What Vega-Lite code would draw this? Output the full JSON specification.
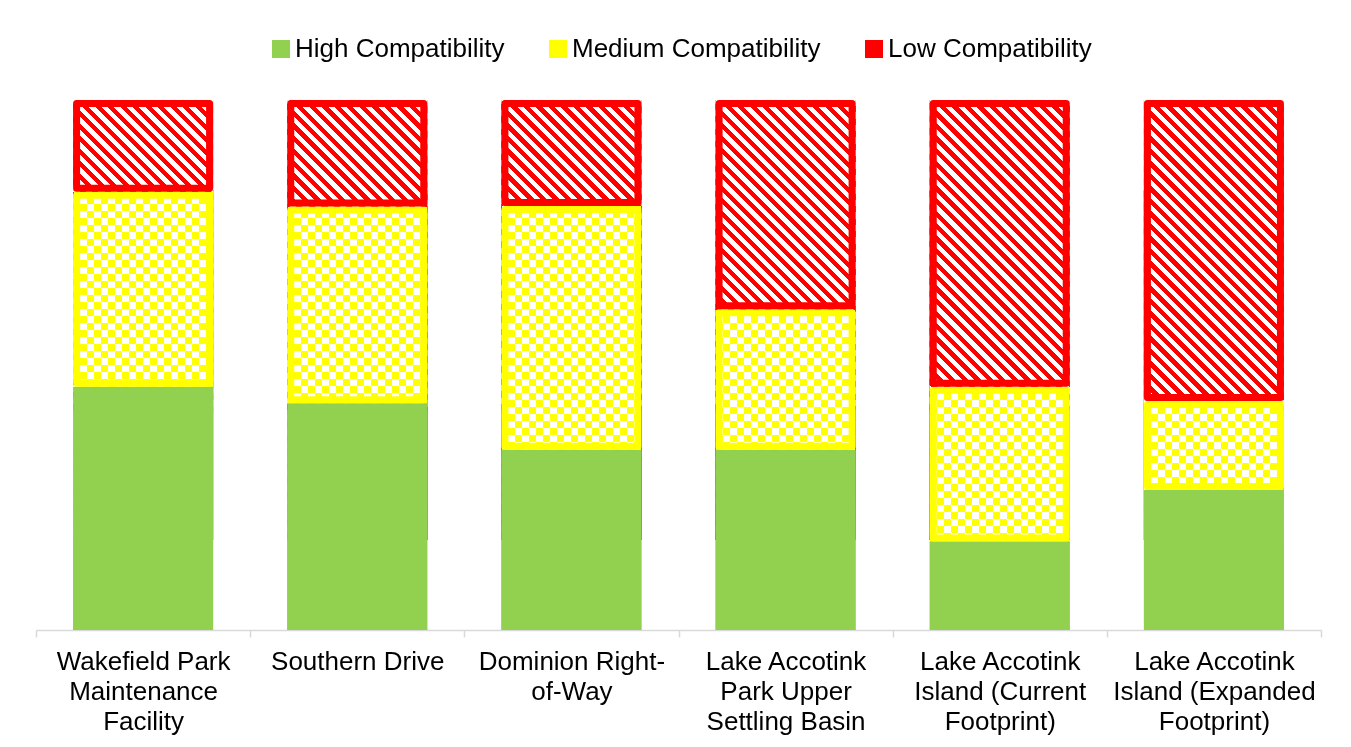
{
  "$schema": "https://vega.github.io/schema/vega-lite/v6.json",
  "width": 1285,
  "height": 530,
  "autosize": {"type": "none"},
  "padding": {"left": 36, "top": 100, "right": 30, "bottom": 117},
  "background": "white",
  "config": {"view": {"stroke": null}},
  "params": [
    {"name": "checkH", "value": {"gradient": "linear", "x1": 0, "y1": 0, "x2": 0, "y2": 1, "stops": [
      {"offset": 0, "color": "#00f"}, {"offset": 0.02, "color": "#00f"},
      {"offset": 0.02, "color": "#000"}, {"offset": 0.04, "color": "#000"},
      {"offset": 0.04, "color": "#00f"}, {"offset": 0.06, "color": "#00f"},
      {"offset": 0.06, "color": "#000"}, {"offset": 0.08, "color": "#000"},
      {"offset": 0.08, "color": "#00f"}, {"offset": 0.10, "color": "#00f"},
      {"offset": 0.10, "color": "#000"}, {"offset": 0.12, "color": "#000"},
      {"offset": 0.12, "color": "#00f"}, {"offset": 0.14, "color": "#00f"},
      {"offset": 0.14, "color": "#000"}, {"offset": 0.16, "color": "#000"},
      {"offset": 0.16, "color": "#00f"}, {"offset": 0.18, "color": "#00f"},
      {"offset": 0.18, "color": "#000"}, {"offset": 0.20, "color": "#000"},
      {"offset": 0.20, "color": "#00f"}, {"offset": 0.22, "color": "#00f"},
      {"offset": 0.22, "color": "#000"}, {"offset": 0.24, "color": "#000"},
      {"offset": 0.24, "color": "#00f"}, {"offset": 0.26, "color": "#00f"},
      {"offset": 0.26, "color": "#000"}, {"offset": 0.28, "color": "#000"},
      {"offset": 0.28, "color": "#00f"}, {"offset": 0.30, "color": "#00f"},
      {"offset": 0.30, "color": "#000"}, {"offset": 0.32, "color": "#000"},
      {"offset": 0.32, "color": "#00f"}, {"offset": 0.34, "color": "#00f"},
      {"offset": 0.34, "color": "#000"}, {"offset": 0.36, "color": "#000"},
      {"offset": 0.36, "color": "#00f"}, {"offset": 0.38, "color": "#00f"},
      {"offset": 0.38, "color": "#000"}, {"offset": 0.40, "color": "#000"},
      {"offset": 0.40, "color": "#00f"}, {"offset": 0.42, "color": "#00f"},
      {"offset": 0.42, "color": "#000"}, {"offset": 0.44, "color": "#000"},
      {"offset": 0.44, "color": "#00f"}, {"offset": 0.46, "color": "#00f"},
      {"offset": 0.46, "color": "#000"}, {"offset": 0.48, "color": "#000"},
      {"offset": 0.48, "color": "#00f"}, {"offset": 0.50, "color": "#00f"},
      {"offset": 0.50, "color": "#000"}, {"offset": 0.52, "color": "#000"},
      {"offset": 0.52, "color": "#00f"}, {"offset": 0.54, "color": "#00f"},
      {"offset": 0.54, "color": "#000"}, {"offset": 0.56, "color": "#000"},
      {"offset": 0.56, "color": "#00f"}, {"offset": 0.58, "color": "#00f"},
      {"offset": 0.58, "color": "#000"}, {"offset": 0.60, "color": "#000"},
      {"offset": 0.60, "color": "#00f"}, {"offset": 0.62, "color": "#00f"},
      {"offset": 0.62, "color": "#000"}, {"offset": 0.64, "color": "#000"},
      {"offset": 0.64, "color": "#00f"}, {"offset": 0.66, "color": "#00f"},
      {"offset": 0.66, "color": "#000"}, {"offset": 0.68, "color": "#000"},
      {"offset": 0.68, "color": "#00f"}, {"offset": 0.70, "color": "#00f"},
      {"offset": 0.70, "color": "#000"}, {"offset": 0.72, "color": "#000"},
      {"offset": 0.72, "color": "#00f"}, {"offset": 0.74, "color": "#00f"},
      {"offset": 0.74, "color": "#000"}, {"offset": 0.76, "color": "#000"},
      {"offset": 0.76, "color": "#00f"}, {"offset": 0.78, "color": "#00f"},
      {"offset": 0.78, "color": "#000"}, {"offset": 0.80, "color": "#000"},
      {"offset": 0.80, "color": "#00f"}, {"offset": 0.82, "color": "#00f"},
      {"offset": 0.82, "color": "#000"}, {"offset": 0.84, "color": "#000"},
      {"offset": 0.84, "color": "#00f"}, {"offset": 0.86, "color": "#00f"},
      {"offset": 0.86, "color": "#000"}, {"offset": 0.88, "color": "#000"},
      {"offset": 0.88, "color": "#00f"}, {"offset": 0.90, "color": "#00f"},
      {"offset": 0.90, "color": "#000"}, {"offset": 0.92, "color": "#000"},
      {"offset": 0.92, "color": "#00f"}, {"offset": 0.94, "color": "#00f"},
      {"offset": 0.94, "color": "#000"}, {"offset": 0.96, "color": "#000"},
      {"offset": 0.96, "color": "#00f"}, {"offset": 0.98, "color": "#00f"},
      {"offset": 0.98, "color": "#000"}, {"offset": 1, "color": "#000"}
    ]}},
    {"name": "checkV", "value": {"gradient": "linear", "x1": 0, "y1": 0, "x2": 1, "y2": 0, "stops": [
      {"offset": 0, "color": "#ff0"}, {"offset": 0.05, "color": "#ff0"},
      {"offset": 0.05, "color": "#fff"}, {"offset": 0.10, "color": "#fff"},
      {"offset": 0.10, "color": "#ff0"}, {"offset": 0.15, "color": "#ff0"},
      {"offset": 0.15, "color": "#fff"}, {"offset": 0.20, "color": "#fff"},
      {"offset": 0.20, "color": "#ff0"}, {"offset": 0.25, "color": "#ff0"},
      {"offset": 0.25, "color": "#fff"}, {"offset": 0.30, "color": "#fff"},
      {"offset": 0.30, "color": "#ff0"}, {"offset": 0.35, "color": "#ff0"},
      {"offset": 0.35, "color": "#fff"}, {"offset": 0.40, "color": "#fff"},
      {"offset": 0.40, "color": "#ff0"}, {"offset": 0.45, "color": "#ff0"},
      {"offset": 0.45, "color": "#fff"}, {"offset": 0.50, "color": "#fff"},
      {"offset": 0.50, "color": "#ff0"}, {"offset": 0.55, "color": "#ff0"},
      {"offset": 0.55, "color": "#fff"}, {"offset": 0.60, "color": "#fff"},
      {"offset": 0.60, "color": "#ff0"}, {"offset": 0.65, "color": "#ff0"},
      {"offset": 0.65, "color": "#fff"}, {"offset": 0.70, "color": "#fff"},
      {"offset": 0.70, "color": "#ff0"}, {"offset": 0.75, "color": "#ff0"},
      {"offset": 0.75, "color": "#fff"}, {"offset": 0.80, "color": "#fff"},
      {"offset": 0.80, "color": "#ff0"}, {"offset": 0.85, "color": "#ff0"},
      {"offset": 0.85, "color": "#fff"}, {"offset": 0.90, "color": "#fff"},
      {"offset": 0.90, "color": "#ff0"}, {"offset": 0.95, "color": "#ff0"},
      {"offset": 0.95, "color": "#fff"}, {"offset": 1, "color": "#fff"}
    ]}},
    {"name": "hatch", "value": {"gradient": "linear", "x1": 0, "y1": 1, "x2": 0.54451, "y2": -0.20571, "stops": [
      {"offset": 0, "color": "#f00"}, {"offset": 0.01389, "color": "#f00"},
      {"offset": 0.01389, "color": "#fff"}, {"offset": 0.02778, "color": "#fff"},
      {"offset": 0.02778, "color": "#f00"}, {"offset": 0.04167, "color": "#f00"},
      {"offset": 0.04167, "color": "#fff"}, {"offset": 0.05556, "color": "#fff"},
      {"offset": 0.05556, "color": "#f00"}, {"offset": 0.06944, "color": "#f00"},
      {"offset": 0.06944, "color": "#fff"}, {"offset": 0.08333, "color": "#fff"},
      {"offset": 0.08333, "color": "#f00"}, {"offset": 0.09722, "color": "#f00"},
      {"offset": 0.09722, "color": "#fff"}, {"offset": 0.11111, "color": "#fff"},
      {"offset": 0.11111, "color": "#f00"}, {"offset": 0.125, "color": "#f00"},
      {"offset": 0.125, "color": "#fff"}, {"offset": 0.13889, "color": "#fff"},
      {"offset": 0.13889, "color": "#f00"}, {"offset": 0.15278, "color": "#f00"},
      {"offset": 0.15278, "color": "#fff"}, {"offset": 0.16667, "color": "#fff"},
      {"offset": 0.16667, "color": "#f00"}, {"offset": 0.18056, "color": "#f00"},
      {"offset": 0.18056, "color": "#fff"}, {"offset": 0.19444, "color": "#fff"},
      {"offset": 0.19444, "color": "#f00"}, {"offset": 0.20833, "color": "#f00"},
      {"offset": 0.20833, "color": "#fff"}, {"offset": 0.22222, "color": "#fff"},
      {"offset": 0.22222, "color": "#f00"}, {"offset": 0.23611, "color": "#f00"},
      {"offset": 0.23611, "color": "#fff"}, {"offset": 0.25, "color": "#fff"},
      {"offset": 0.25, "color": "#f00"}, {"offset": 0.26389, "color": "#f00"},
      {"offset": 0.26389, "color": "#fff"}, {"offset": 0.27778, "color": "#fff"},
      {"offset": 0.27778, "color": "#f00"}, {"offset": 0.29167, "color": "#f00"},
      {"offset": 0.29167, "color": "#fff"}, {"offset": 0.30556, "color": "#fff"},
      {"offset": 0.30556, "color": "#f00"}, {"offset": 0.31944, "color": "#f00"},
      {"offset": 0.31944, "color": "#fff"}, {"offset": 0.33333, "color": "#fff"},
      {"offset": 0.33333, "color": "#f00"}, {"offset": 0.34722, "color": "#f00"},
      {"offset": 0.34722, "color": "#fff"}, {"offset": 0.36111, "color": "#fff"},
      {"offset": 0.36111, "color": "#f00"}, {"offset": 0.375, "color": "#f00"},
      {"offset": 0.375, "color": "#fff"}, {"offset": 0.38889, "color": "#fff"},
      {"offset": 0.38889, "color": "#f00"}, {"offset": 0.40278, "color": "#f00"},
      {"offset": 0.40278, "color": "#fff"}, {"offset": 0.41667, "color": "#fff"},
      {"offset": 0.41667, "color": "#f00"}, {"offset": 0.43056, "color": "#f00"},
      {"offset": 0.43056, "color": "#fff"}, {"offset": 0.44444, "color": "#fff"},
      {"offset": 0.44444, "color": "#f00"}, {"offset": 0.45833, "color": "#f00"},
      {"offset": 0.45833, "color": "#fff"}, {"offset": 0.47222, "color": "#fff"},
      {"offset": 0.47222, "color": "#f00"}, {"offset": 0.48611, "color": "#f00"},
      {"offset": 0.48611, "color": "#fff"}, {"offset": 0.5, "color": "#fff"},
      {"offset": 0.5, "color": "#f00"}, {"offset": 0.51389, "color": "#f00"},
      {"offset": 0.51389, "color": "#fff"}, {"offset": 0.52778, "color": "#fff"},
      {"offset": 0.52778, "color": "#f00"}, {"offset": 0.54167, "color": "#f00"},
      {"offset": 0.54167, "color": "#fff"}, {"offset": 0.55556, "color": "#fff"},
      {"offset": 0.55556, "color": "#f00"}, {"offset": 0.56944, "color": "#f00"},
      {"offset": 0.56944, "color": "#fff"}, {"offset": 0.58333, "color": "#fff"},
      {"offset": 0.58333, "color": "#f00"}, {"offset": 0.59722, "color": "#f00"},
      {"offset": 0.59722, "color": "#fff"}, {"offset": 0.61111, "color": "#fff"},
      {"offset": 0.61111, "color": "#f00"}, {"offset": 0.625, "color": "#f00"},
      {"offset": 0.625, "color": "#fff"}, {"offset": 0.63889, "color": "#fff"},
      {"offset": 0.63889, "color": "#f00"}, {"offset": 0.65278, "color": "#f00"},
      {"offset": 0.65278, "color": "#fff"}, {"offset": 0.66667, "color": "#fff"},
      {"offset": 0.66667, "color": "#f00"}, {"offset": 0.68056, "color": "#f00"},
      {"offset": 0.68056, "color": "#fff"}, {"offset": 0.69444, "color": "#fff"},
      {"offset": 0.69444, "color": "#f00"}, {"offset": 0.70833, "color": "#f00"},
      {"offset": 0.70833, "color": "#fff"}, {"offset": 0.72222, "color": "#fff"},
      {"offset": 0.72222, "color": "#f00"}, {"offset": 0.73611, "color": "#f00"},
      {"offset": 0.73611, "color": "#fff"}, {"offset": 0.75, "color": "#fff"},
      {"offset": 0.75, "color": "#f00"}, {"offset": 0.76389, "color": "#f00"},
      {"offset": 0.76389, "color": "#fff"}, {"offset": 0.77778, "color": "#fff"},
      {"offset": 0.77778, "color": "#f00"}, {"offset": 0.79167, "color": "#f00"},
      {"offset": 0.79167, "color": "#fff"}, {"offset": 0.80556, "color": "#fff"},
      {"offset": 0.80556, "color": "#f00"}, {"offset": 0.81944, "color": "#f00"},
      {"offset": 0.81944, "color": "#fff"}, {"offset": 0.83333, "color": "#fff"},
      {"offset": 0.83333, "color": "#f00"}, {"offset": 0.84722, "color": "#f00"},
      {"offset": 0.84722, "color": "#fff"}, {"offset": 0.86111, "color": "#fff"},
      {"offset": 0.86111, "color": "#f00"}, {"offset": 0.875, "color": "#f00"},
      {"offset": 0.875, "color": "#fff"}, {"offset": 0.88889, "color": "#fff"},
      {"offset": 0.88889, "color": "#f00"}, {"offset": 0.90278, "color": "#f00"},
      {"offset": 0.90278, "color": "#fff"}, {"offset": 0.91667, "color": "#fff"},
      {"offset": 0.91667, "color": "#f00"}, {"offset": 0.93056, "color": "#f00"},
      {"offset": 0.93056, "color": "#fff"}, {"offset": 0.94444, "color": "#fff"},
      {"offset": 0.94444, "color": "#f00"}, {"offset": 0.95833, "color": "#f00"},
      {"offset": 0.95833, "color": "#fff"}, {"offset": 0.97222, "color": "#fff"},
      {"offset": 0.97222, "color": "#f00"}, {"offset": 0.98611, "color": "#f00"},
      {"offset": 0.98611, "color": "#fff"}, {"offset": 1, "color": "#fff"}
    ]}}
  ],
  "datasets": {
    "levels": [
      {"level": "High Compatibility", "rank": 1},
      {"level": "Medium Compatibility", "rank": 2},
      {"level": "Low Compatibility", "rank": 3}
    ]
  },
  "data": {"values": [
    {"site": "Wakefield Park Maintenance Facility", "level": "High Compatibility", "share": 45.9},
    {"site": "Wakefield Park Maintenance Facility", "level": "Medium Compatibility", "share": 36.8},
    {"site": "Wakefield Park Maintenance Facility", "level": "Low Compatibility", "share": 17.3},
    {"site": "Southern Drive", "level": "High Compatibility", "share": 42.8},
    {"site": "Southern Drive", "level": "Medium Compatibility", "share": 37.1},
    {"site": "Southern Drive", "level": "Low Compatibility", "share": 20.1},
    {"site": "Dominion Right-of-Way", "level": "High Compatibility", "share": 34.0},
    {"site": "Dominion Right-of-Way", "level": "Medium Compatibility", "share": 46.0},
    {"site": "Dominion Right-of-Way", "level": "Low Compatibility", "share": 20.0},
    {"site": "Lake Accotink Park Upper Settling Basin", "level": "High Compatibility", "share": 34.0},
    {"site": "Lake Accotink Park Upper Settling Basin", "level": "Medium Compatibility", "share": 26.5},
    {"site": "Lake Accotink Park Upper Settling Basin", "level": "Low Compatibility", "share": 39.5},
    {"site": "Lake Accotink Island (Current Footprint)", "level": "High Compatibility", "share": 16.7},
    {"site": "Lake Accotink Island (Current Footprint)", "level": "Medium Compatibility", "share": 29.2},
    {"site": "Lake Accotink Island (Current Footprint)", "level": "Low Compatibility", "share": 54.1},
    {"site": "Lake Accotink Island (Expanded Footprint)", "level": "High Compatibility", "share": 26.4},
    {"site": "Lake Accotink Island (Expanded Footprint)", "level": "Medium Compatibility", "share": 16.8},
    {"site": "Lake Accotink Island (Expanded Footprint)", "level": "Low Compatibility", "share": 56.8}
  ]},
  "transform": [
    {"lookup": "level", "from": {"data": {"name": "levels"}, "key": "level", "fields": ["rank"]}},
    {"stack": "share", "groupby": ["site"], "sort": [{"field": "rank", "order": "ascending"}], "offset": "normalize", "as": ["y0", "y1"]}
  ],
  "encoding": {
    "x": {
      "field": "site", "type": "nominal", "sort": null, "title": null,
      "scale": {"paddingInner": 0, "paddingOuter": 0},
      "axis": {
        "labelExpr": "datum.value == 'Wakefield Park Maintenance Facility' ? ['Wakefield Park', 'Maintenance', 'Facility'] : datum.value == 'Dominion Right-of-Way' ? ['Dominion Right-', 'of-Way'] : datum.value == 'Lake Accotink Park Upper Settling Basin' ? ['Lake Accotink', 'Park Upper', 'Settling Basin'] : datum.value == 'Lake Accotink Island (Current Footprint)' ? ['Lake Accotink', 'Island (Current', 'Footprint)'] : datum.value == 'Lake Accotink Island (Expanded Footprint)' ? ['Lake Accotink', 'Island (Expanded', 'Footprint)'] : datum.label",
        "labelFont": "Liberation Sans", "labelFontSize": 26, "labelColor": "#000",
        "labelLineHeight": 30, "labelLimit": 400, "labelAngle": 0, "labelPadding": 11,
        "labelOverlap": false,
        "domainColor": "#d9d9d9", "domainWidth": 1.5, "tickColor": "#d9d9d9", "tickWidth": 1.5, "tickSize": 7,
        "tickBand": "extent"
      }
    }
  },
  "layer": [
    {
      "mark": {"type": "bar", "width": {"band": 0.6537}},
      "encoding": {
        "y": {"field": "y1", "type": "quantitative", "stack": null, "scale": {"domain": [0, 1]}, "axis": null},
        "y2": {"field": "y0"},
        "fill": {
          "field": "level", "type": "nominal",
          "scale": {"domain": ["High Compatibility", "Medium Compatibility", "Low Compatibility"], "range": ["#92d050", "#ffff00", "#ff0000"]},
          "legend": {
            "title": null, "orient": "none", "legendX": 232, "legendY": -64, "direction": "horizontal",
            "symbolType": "square", "symbolSize": 324, "symbolStrokeWidth": 0,
            "labelFont": "Liberation Sans", "labelFontSize": 26, "labelColor": "#000",
            "labelOffset": 1, "columnPadding": 40, "labelLimit": 400
          }
        }
      }
    },
    {
      "transform": [{"filter": "datum.level == 'High Compatibility'"}],
      "mark": {"type": "bar", "width": {"band": 0.6537}, "fill": {"expr": "checkH"}},
      "encoding": {
        "y": {"datum": 0.8302, "type": "quantitative", "scale": {"domain": [0, 1]}, "axis": null},
        "y2": {"datum": 0.1698}
      }
    },
    {
      "transform": [{"filter": "datum.level == 'High Compatibility'"}],
      "mark": {"type": "bar", "width": {"band": 0.6537}, "fill": {"expr": "checkV"}, "blend": "difference"},
      "encoding": {
        "y": {"datum": 0.8302, "type": "quantitative", "scale": {"domain": [0, 1]}, "axis": null},
        "y2": {"datum": 0.1698}
      }
    },
    {
      "transform": [{"filter": "datum.level == 'Low Compatibility'"}],
      "mark": {"type": "bar", "width": {"band": 0.6537}, "fill": "#ff8080"},
      "encoding": {
        "y": {"field": "y1", "type": "quantitative", "scale": {"domain": [0, 1]}, "axis": null},
        "y2": {"field": "y0"}
      }
    },
    {
      "transform": [{"filter": "datum.level == 'High Compatibility'"}],
      "mark": {"type": "bar", "width": {"band": 0.6537}, "fill": {"expr": "hatch"}, "blend": "color-dodge"},
      "encoding": {
        "y": {"datum": 1, "type": "quantitative", "scale": {"domain": [0, 1]}, "axis": null},
        "y2": {"datum": 0.41509}
      }
    },
    {
      "transform": [{"filter": "datum.level == 'High Compatibility'"}],
      "mark": {"type": "bar", "width": {"band": 0.6537}, "fill": {"expr": "hatch"}, "blend": "color-burn"},
      "encoding": {
        "y": {"datum": 1, "type": "quantitative", "scale": {"domain": [0, 1]}, "axis": null},
        "y2": {"datum": 0.41509}
      }
    },
    {
      "transform": [{"filter": "datum.level == 'High Compatibility'"}],
      "mark": {"type": "bar", "width": {"band": 0.6537}, "fill": "#92d050"},
      "encoding": {
        "y": {"field": "y1", "type": "quantitative", "scale": {"domain": [0, 1]}, "axis": null},
        "y2": {"field": "y0"}
      }
    },
    {
      "transform": [{"filter": "datum.level != 'High Compatibility'"}],
      "mark": {"type": "bar", "filled": false, "strokeWidth": 7, "strokeJoin": "round", "width": {"band": 0.621}, "yOffset": 3.5, "y2Offset": -3.5},
      "encoding": {
        "y": {"field": "y1", "type": "quantitative", "scale": {"domain": [0, 1]}, "axis": null},
        "y2": {"field": "y0"},
        "stroke": {"condition": {"test": "datum.level == 'Low Compatibility'", "value": "#ff0000"}, "value": "#ffff00"}
      }
    }
  ]
}
